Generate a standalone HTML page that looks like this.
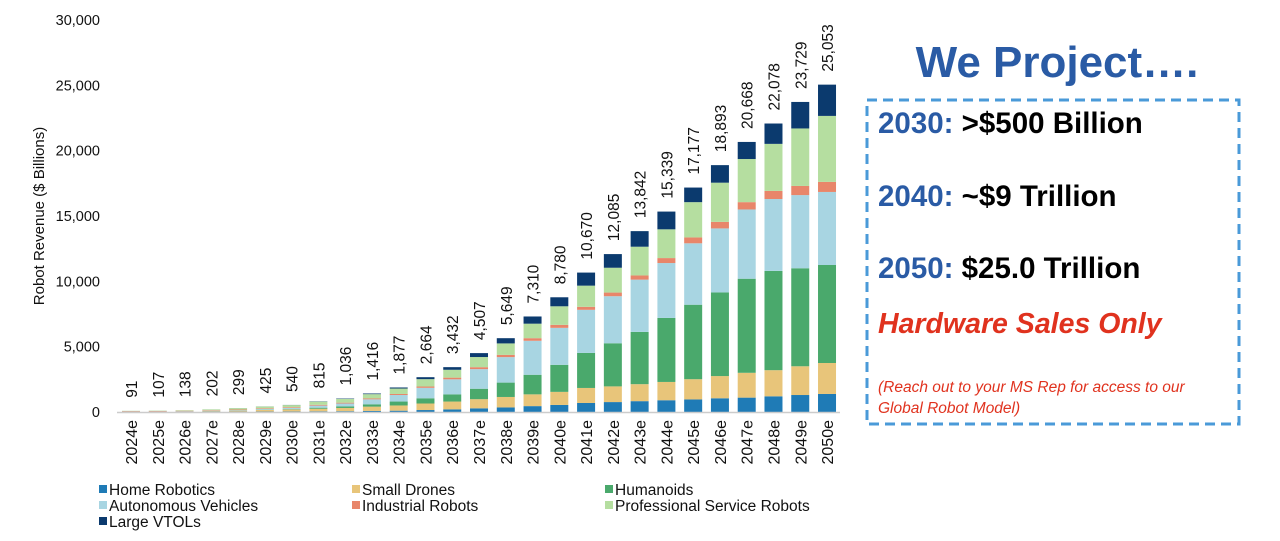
<!DOCTYPE html>
<html><head><meta charset="utf-8"><style>
body{margin:0;background:#fff;width:1280px;height:541px;overflow:hidden;font-family:"Liberation Sans",Arial,sans-serif}
svg{position:absolute;left:0;top:0}
</style></head><body>
<svg id="chart" width="1280" height="541">
<text x="0" y="0" transform="translate(44,216) rotate(-90)" text-anchor="middle" font-size="15" fill="#111">Robot Revenue ($ Billions)</text>
<g id="yt"></g><g id="bars"></g><g id="xl"></g><g id="tl"></g><g id="lg"></g>
<line x1="117" y1="412.5" x2="840" y2="412.5" stroke="#ccc" stroke-width="1.5"/>
<text x="1057" y="77" text-anchor="middle" font-size="44" font-weight="bold" fill="#2a5ba5">We Project….</text>
<rect x="867" y="100" width="372" height="324" fill="none" stroke="#4a9ad8" stroke-width="3" stroke-dasharray="10,6"/>
<text x="878" y="133" font-size="29.5" font-weight="bold"><tspan fill="#2a5ba5">2030:</tspan><tspan fill="#000"> &gt;$500 Billion</tspan></text>
<text x="878" y="206" font-size="29.5" font-weight="bold"><tspan fill="#2a5ba5">2040:</tspan><tspan fill="#000"> ~$9 Trillion</tspan></text>
<text x="878" y="278" font-size="29.5" font-weight="bold"><tspan fill="#2a5ba5">2050:</tspan><tspan fill="#000"> $25.0 Trillion</tspan></text>
<text x="878" y="333" font-size="28.5" font-weight="bold" font-style="italic" fill="#e0321e">Hardware Sales Only</text>
<text x="878" y="392" font-size="15.5" font-style="italic" fill="#e0321e">(Reach out to your MS Rep for access to our</text>
<text x="878" y="413" font-size="15.5" font-style="italic" fill="#e0321e">Global Robot Model)</text>
</svg>
<script>
const years=["2024e","2025e","2026e","2027e","2028e","2029e","2030e","2031e","2032e","2033e","2034e","2035e","2036e","2037e","2038e","2039e","2040e","2041e","2042e","2043e","2044e","2045e","2046e","2047e","2048e","2049e","2050e"];
const totals=[91,107,138,202,299,425,540,815,1036,1416,1877,2664,3432,4507,5649,7310,8780,10670,12085,13842,15339,17177,18893,20668,22078,23729,25053];
const homeRobotics=[20,22,25,28,30,35,40,50,60,80,100,150,200,280,350,450,540,690,760,830,900,960,1050,1100,1200,1300,1380];
const smallDrones=[15,18,25,40,70,120,150,200,250,330,400,500,600,700,800,900,1000,1150,1200,1300,1400,1550,1700,1900,2000,2200,2370];
const humanoids=[0,1,2,5,10,20,30,80,120,180,300,400,550,800,1100,1500,2070,2680,3300,4000,4900,5700,6400,7200,7600,7500,7500];
const autonomousVehicles=[5,8,12,20,35,60,90,160,220,380,500,800,1150,1500,1950,2600,2830,3300,3600,4000,4200,4700,4900,5300,5500,5600,5590];
const industrialRobots=[30,32,35,40,45,50,55,60,65,70,80,100,130,150,170,200,230,230,280,320,380,450,500,560,620,700,770];
const professionalService=[20,25,38,67,105,135,165,245,291,326,417,564,602,777,879,1110,1420,1620,1900,2200,2200,2700,3000,3300,3600,4400,5050];
const largeVTOLs=[1,1,1,2,4,5,10,20,30,50,80,150,200,300,400,550,690,1000,1045,1192,1359,1117,1343,1308,1558,2029,2393];
const yTicks=[0,5000,10000,15000,20000,25000,30000];
const seriesNames=["Home Robotics","Small Drones","Humanoids","Autonomous Vehicles","Industrial Robots","Professional Service Robots","Large VTOLs"];
const seriesData=[homeRobotics,smallDrones,humanoids,autonomousVehicles,industrialRobots,professionalService,largeVTOLs];
const colors=["#1f7bb6","#e8c57a","#4aa96c","#a8d5e2","#e8866a","#b5dea0","#0b3a6e"];
const NS="http://www.w3.org/2000/svg";
const y0=412,yTop=20,yMax=30000;
function ys(v){return y0-(v/yMax)*(y0-yTop);}
function xs(i){return 131+i*26.77;}
function mk(tag,attrs,parent){const e=document.createElementNS(NS,tag);for(const k in attrs)e.setAttribute(k,attrs[k]);parent.appendChild(e);return e;}
const yt=document.getElementById('yt');
yTicks.forEach(t=>{const e=mk('text',{x:100,y:ys(t)+5,'text-anchor':'end','font-size':14.5,fill:'#111'},yt);


e.textContent=t.toLocaleString('en-US');});
const bars=document.getElementById('bars'),xl=document.getElementById('xl'),tl=document.getElementById('tl');
const bw=18;
years.forEach((yr,i)=>{let acc=0;const cx=xs(i);
seriesData.forEach((s,k)=>{const v=s[i];const r=mk('rect',{x:cx-bw/2,y:ys(acc+v),width:bw,height:Math.max(0,ys(acc)-ys(acc+v)),fill:colors[k]},bars);


acc+=v;});
const lx=mk('text',{x:0,y:0,transform:`translate(${cx+6},${420}) rotate(-90)`,'text-anchor':'end','font-size':16,fill:'#111'},xl);


lx.textContent=yr;
const tt=mk('text',{x:0,y:0,transform:`translate(${cx+6},${ys(totals[i])-13}) rotate(-90)`,'text-anchor':'start','font-size':15.5,fill:'#111'},tl);


tt.textContent=totals[i].toLocaleString('en-US');});
const lg=document.getElementById('lg');
const lpos=[[99,495],[352,495],[605,495],[99,511],[352,511],[605,511],[99,527]];
seriesNames.forEach((n,k)=>{const g=mk('g',{},lg);


mk('rect',{x:lpos[k][0],y:lpos[k][1]-10,width:8,height:8,fill:colors[k]},g);
const t=mk('text',{x:lpos[k][0]+10,y:lpos[k][1],'font-size':15.5,fill:'#111'},g);t.textContent=n;});
</script>
</body></html>
